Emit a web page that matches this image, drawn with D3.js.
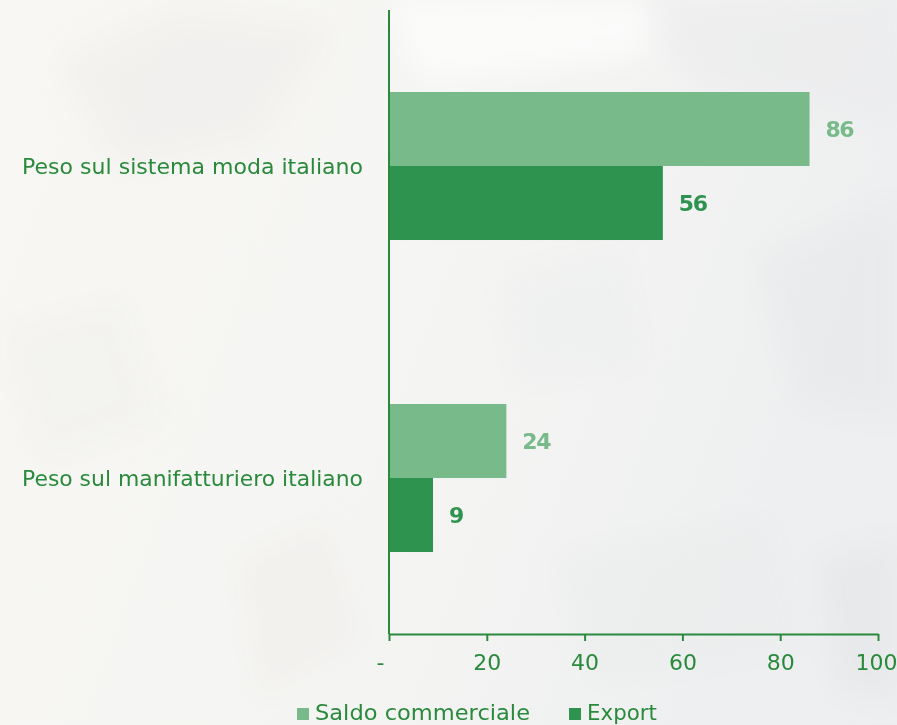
<!DOCTYPE html>
<html>
<head>
<meta charset="utf-8">
<script src="https://cdn.jsdelivr.net/npm/d3@7"></script>
<style>
  html, body { margin: 0; padding: 0; background: #f6f5f2; }
  svg { display: block; }
  text { font-family: "DejaVu Sans", Verdana, sans-serif; }
</style>
</head>
<body>
<svg id="chart" width="897" height="725"></svg>
<script>
// Categories and series
const categories = ["Peso sul sistema moda italiano", "Peso sul manifatturiero italiano"];
const seriesNames = ["Saldo commerciale", "Export"];
const saldoValues = [86, 24];
const exportValues = [56, 9];
const tickValues = [0, 20, 40, 60, 80, 100];
const tickLabels = ["-", "20", "40", "60", "80", "100"];

const seriesColors = ["#79ba8b", "#2f9350"];
const labelColors = ["#79ba8b", "#2f9350"];
const green = "#2a8a3c";

const W = 897, H = 725;
const margin = { top: 10, right: 19, bottom: 91, left: 389 };
const svg = d3.select("#chart");

// soft textured backdrop
const defs = svg.append("defs");
const bg = defs.append("linearGradient").attr("id", "bg").attr("x1", 0).attr("y1", 0).attr("x2", 1).attr("y2", 0.3);
bg.append("stop").attr("offset", "0%").attr("stop-color", "#f8f7f4");
bg.append("stop").attr("offset", "55%").attr("stop-color", "#f5f5f3");
bg.append("stop").attr("offset", "100%").attr("stop-color", "#eeeff0");
defs.append("filter").attr("id", "soft").attr("x", "-50%").attr("y", "-50%").attr("width", "200%").attr("height", "200%")
  .append("feGaussianBlur").attr("stdDeviation", 14);
svg.append("rect").attr("width", W).attr("height", H).attr("fill", "url(#bg)");

const haze = svg.append("g").attr("filter", "url(#soft)");
const shades = [
  { pts: "60,60 180,10 330,30 260,140 120,170", c: "#eae9e6", o: 0.4 },
  { pts: "390,0 660,0 640,60 420,80", c: "#ffffff", o: 0.6 },
  { pts: "640,0 897,0 897,120 700,90", c: "#e8e9ea", o: 0.45 },
  { pts: "0,330 120,300 160,420 40,460", c: "#eceae7", o: 0.3 },
  { pts: "240,560 330,520 360,640 260,700", c: "#eae9e6", o: 0.3 },
  { pts: "760,260 897,200 897,420 800,400", c: "#e3e4e6", o: 0.45 },
  { pts: "500,280 620,250 640,360 520,380", c: "#ecedee", o: 0.45 },
  { pts: "560,560 760,520 800,640 600,680", c: "#e9eaeb", o: 0.45 },
  { pts: "820,560 897,540 897,700 840,690", c: "#e2e3e5", o: 0.5 }
];
haze.selectAll("polygon").data(shades).join("polygon")
  .attr("points", d => d.pts).attr("fill", d => d.c).attr("opacity", d => d.o);

const x = d3.scaleLinear().domain([0, 100]).range([margin.left, W - margin.right]);
const y0 = d3.scaleBand().domain(categories)
  .range([margin.top, H - margin.bottom])
  .paddingInner(0.5256).paddingOuter(0.2628);
const y1 = d3.scaleBand().domain(seriesNames).range([0, y0.bandwidth()]);

const rows = categories.map((c, i) => ({ cat: c, values: [saldoValues[i], exportValues[i]] }));

const groups = svg.append("g").selectAll("g").data(rows).join("g")
  .attr("transform", d => `translate(0,${y0(d.cat)})`);

groups.selectAll("rect").data(d => d.values.map((v, j) => ({ v, s: seriesNames[j], j })))
  .join("rect")
  .attr("x", x(0))
  .attr("y", d => y1(d.s))
  .attr("width", d => x(d.v) - x(0))
  .attr("height", y1.bandwidth())
  .attr("fill", d => seriesColors[d.j]);

groups.selectAll("text.val").data(d => d.values.map((v, j) => ({ v, s: seriesNames[j], j })))
  .join("text").attr("class", "val")
  .attr("x", d => x(d.v) + 16)
  .attr("y", d => y1(d.s) + y1.bandwidth() / 2)
  .attr("dy", "0.36em")
  .attr("font-size", 22)
  .attr("font-weight", "bold")
  .attr("letter-spacing", -1.5)
  .attr("fill", d => labelColors[d.j])
  .text(d => d.v);

// category labels
svg.append("g").selectAll("text").data(categories).join("text")
  .attr("x", 22)
  .attr("y", d => y0(d) + y0.bandwidth() / 2)
  .attr("dy", "0.36em")
  .attr("font-size", 22)
  .attr("textLength", 341)
  .attr("lengthAdjust", "spacingAndGlyphs")
  .attr("fill", green)
  .text(d => d);

// x axis
const xAxis = d3.axisBottom(x).tickValues(tickValues)
  .tickFormat((d, i) => tickLabels[i]).tickSize(7).tickSizeOuter(0).tickPadding(13);
const gx = svg.append("g").attr("transform", `translate(0,${H - margin.bottom})`).call(xAxis);
gx.select(".domain").attr("stroke", green).attr("stroke-width", 2);
gx.selectAll(".tick line").attr("stroke", green).attr("stroke-width", 2);
gx.selectAll(".tick text").attr("fill", green).attr("font-size", 22)
  .attr("font-family", "DejaVu Sans Condensed, DejaVu Sans, sans-serif")
  .attr("dx", d => d === 0 ? -9 : (d === 100 ? -2 : 0));

// y axis line
svg.append("line")
  .attr("x1", x(0)).attr("x2", x(0))
  .attr("y1", margin.top).attr("y2", H - margin.bottom)
  .attr("stroke", green).attr("stroke-width", 2);

// legend
const legend = svg.append("g").attr("transform", "translate(297,713)");
const legX = [0, 272];
const legW = [215, 70];
const li = legend.selectAll("g").data(seriesNames).join("g")
  .attr("transform", (d, i) => `translate(${legX[i]},0)`);
li.append("rect").attr("x", 0).attr("y", -5).attr("width", 12).attr("height", 12)
  .attr("fill", (d, i) => seriesColors[i]);
li.append("text").attr("x", 18).attr("y", 0).attr("dy", "0.3em")
  .attr("font-size", 22).attr("fill", green)
  .attr("textLength", (d, i) => legW[i]).attr("lengthAdjust", "spacingAndGlyphs")
  .text(d => d);
</script>
</body>
</html>
